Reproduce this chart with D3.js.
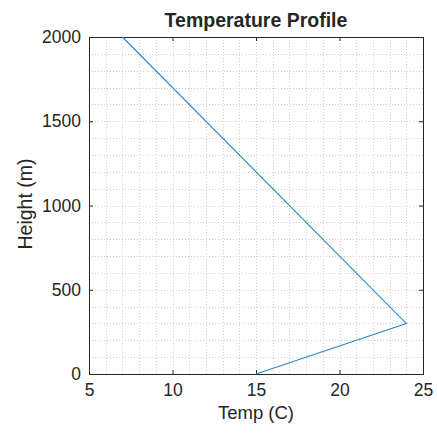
<!DOCTYPE html>
<html>
<head>
<meta charset="utf-8">
<script src="https://cdn.jsdelivr.net/npm/d3@7"></script>
<style>
  html, body { margin: 0; padding: 0; background: #fff; }
  svg { display: block; }
  text { font-family: "Liberation Sans", Arial, sans-serif; fill: #262626; }
</style>
</head>
<body>
<svg id="chart" width="437" height="433"></svg>
<script>
// Temperature vs height profile
const temps = [15, 24, 7];
const heights = [0, 300, 2000];
const xTicks = [5, 10, 15, 20, 25];
const yTicks = [0, 500, 1000, 1500, 2000];

const W = 437, H = 433;
const m = { left: 89, right: 14, top: 37, bottom: 59 };
const svg = d3.select("#chart");

const x = d3.scaleLinear().domain([5, 25]).range([m.left, W - m.right]);
const y = d3.scaleLinear().domain([0, 2000]).range([H - m.bottom, m.top]);

// minor + major grid, dotted
const grid = svg.append("g").attr("stroke", "#cfcfcf").attr("stroke-width", 1)
  .attr("stroke-dasharray", "1,2");
grid.selectAll("line.vx").data(d3.range(6, 25, 1)).join("line")
  .attr("x1", d => Math.round(x(d)) + 0.5).attr("x2", d => Math.round(x(d)) + 0.5)
  .attr("y1", y(2000)).attr("y2", y(0));
grid.selectAll("line.hy").data(d3.range(100, 2000, 100)).join("line")
  .attr("y1", d => Math.round(y(d)) + 0.5).attr("y2", d => Math.round(y(d)) + 0.5)
  .attr("x1", x(5)).attr("x2", x(25));

// axes with inward ticks on all sides
const axisColor = "#262626";
const fmt = d3.format("d");
function styleAxis(g) {
  g.select(".domain").remove();
  g.selectAll(".tick line").attr("stroke", axisColor);
  g.selectAll(".tick text").attr("font-size", 17.5).attr("fill", "#262626")
    .attr("font-family", '"Liberation Sans", Arial, sans-serif');
}
svg.append("g").attr("transform", `translate(0,${y(0)})`)
  .call(d3.axisBottom(x).tickValues(xTicks).tickFormat(fmt).tickSizeInner(-4).tickSizeOuter(0).tickPadding(10))
  .call(styleAxis);
svg.append("g").attr("transform", `translate(0,${y(2000)})`)
  .call(d3.axisTop(x).tickValues(xTicks).tickSizeInner(-4).tickSizeOuter(0).tickFormat(""))
  .call(styleAxis);
svg.append("g").attr("transform", `translate(${x(5)},0)`)
  .call(d3.axisLeft(y).tickValues(yTicks).tickFormat(fmt).tickSizeInner(-4).tickSizeOuter(0).tickPadding(8))
  .call(styleAxis);
svg.append("g").attr("transform", `translate(${x(25)},0)`)
  .call(d3.axisRight(y).tickValues(yTicks).tickSizeInner(-4).tickSizeOuter(0).tickFormat(""))
  .call(styleAxis);

// box
svg.append("rect")
  .attr("x", x(5) + 0.5).attr("y", y(2000) + 0.5)
  .attr("width", x(25) - x(5)).attr("height", y(0) - y(2000))
  .attr("fill", "none").attr("stroke", axisColor).attr("stroke-width", 1);

// profile line
const pts = temps.map((t, i) => [t, heights[i]]);
svg.append("path").datum(pts)
  .attr("fill", "none").attr("stroke", "#2f86c0").attr("stroke-width", 1.1)
  .attr("d", d3.line().x(d => x(d[0])).y(d => y(d[1])));

// title and labels
svg.append("text").attr("x", (x(5) + x(25)) / 2).attr("y", 27)
  .attr("text-anchor", "middle").attr("font-size", 19.5).attr("font-weight", "bold")
  .attr("fill", "#000").text("Temperature Profile");
svg.append("text").attr("x", (x(5) + x(25)) / 2).attr("y", 419)
  .attr("text-anchor", "middle").attr("font-size", 18.5).text("Temp (C)");
svg.append("text").attr("transform", `translate(32,204) rotate(-90)`)
  .attr("text-anchor", "middle").attr("font-size", 19.5).text("Height (m)");
</script>
</body>
</html>
